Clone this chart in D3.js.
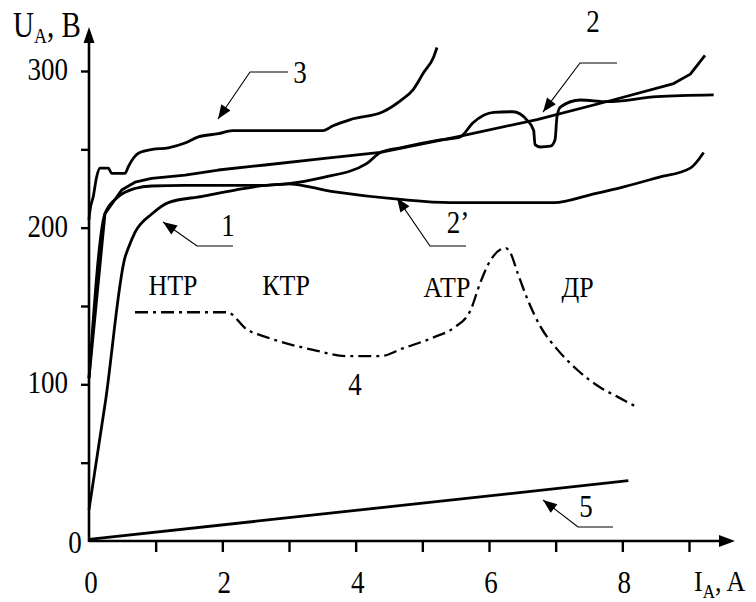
<!DOCTYPE html>
<html>
<head>
<meta charset="utf-8">
<script src="https://cdn.jsdelivr.net/npm/d3@7"></script>
<style>
  body { margin: 0; background: #fff; }
</style>
</head>
<body>
<svg id="chart" width="756" height="602"></svg>
<script>
// I_A, A  vs  U_A, V
const curve1 = [[0, 20], [0.25, 90], [0.54, 181], [0.59, 187], [0.69, 197], [0.95, 209], [1.19, 216],
    [1.7, 220], [2.19, 224], [2.64, 227], [2.97, 228], [3.5, 232], [4.17, 241], [4.37, 248], [4.67, 251],
    [5.27, 256], [5.57, 258], [5.76, 267], [6.07, 273.6], [6.36, 274], [6.57, 268.7], [6.67, 262],
    [6.69, 253], [6.77, 251.5], [6.92, 252], [6.99, 256], [7.02, 270.8], [7.07, 277], [7.37, 281.5],
    [7.77, 280.4], [8.52, 283.6], [9.37, 284.7]];
const curve2 = [[0, 104], [0.24, 209], [0.39, 218], [0.49, 224], [0.69, 229], [0.94, 231.5], [1.44, 233.6],
    [1.94, 236.8], [2.64, 240], [3.5, 244], [4.37, 248], [5.52, 258], [6.72, 269], [7.86, 281.5],
    [8.77, 292], [9.02, 298], [9.24, 310]];
const curve2p = [[0, 104], [0.24, 209], [0.44, 219.7], [0.69, 225], [0.94, 226.6], [1.44, 227], [2.64, 227],
    [2.97, 228], [3.66, 223], [4.67, 218], [5.42, 216], [6.98, 216], [7.52, 221], [8.02, 226],
    [8.53, 232], [9.02, 238], [9.22, 248]];
const curve3 = [[0, 205], [0.015, 211], [0.065, 220], [0.115, 232.5], [0.165, 238], [0.29, 238],
    [0.34, 234.7], [0.54, 234.7], [0.59, 239], [0.665, 244.3], [0.74, 247.5], [0.95, 250], [1.19, 251],
    [1.44, 254], [1.64, 258], [1.94, 260], [2.15, 262], [2.64, 262], [3.51, 262], [3.66, 265],
    [3.92, 269], [4.41, 274], [4.67, 281], [4.86, 288], [5.02, 299], [5.17, 309], [5.22, 315]];
const curve4 = [[0.69, 146], [2.07, 146], [2.37, 135], [2.67, 130], [3.36, 122], [3.87, 118], [4.37, 118],
    [4.71, 123], [5.17, 130], [5.47, 136], [5.72, 147], [5.87, 165], [6.02, 179], [6.17, 186],
    [6.25, 187], [6.32, 184], [6.43, 171], [6.58, 154], [6.77, 137], [7.03, 122], [7.33, 109],
    [7.67, 98], [7.93, 92], [8.24, 85]];
const curve5 = [[0, 1], [8.09, 38.5]];

const xTicks = [1, 2, 3, 4, 5, 6, 7, 8, 9];
const xTickLabels = [0, 2, 4, 6, 8];
const yTicks = [50, 100, 150, 200, 250, 300];
const yTickLabels = [100, 200, 300];

const regionNames = ['НТР', 'КТР', 'АТР', 'ДР'];
const curveNames = ['1', '2', '2’', '3', '4', '5'];

const serif = '"Liberation Serif", "Times New Roman", "DejaVu Serif", serif';
const svg = d3.select('#chart');
const x = d3.scaleLinear().domain([0, 9]).range([89, 689]);
const y = d3.scaleLinear().domain([0, 300]).range([541, 71]);

svg.append('rect').attr('width', 756).attr('height', 602).attr('fill', '#fff');

// serif text in the scan is a bit taller than wide
function label(px, py, str, size, anchor) {
    return svg.append('text')
        .attr('transform', `translate(${px},${py}) scale(1,1.15)`)
        .attr('text-anchor', anchor || 'middle')
        .attr('font-family', serif)
        .attr('fill', '#000')
        .style('font-size', size + 'px')
        .text(str);
}

// axes
const xAxis = svg.append('g').attr('transform', `translate(0,${y(0)})`)
    .call(d3.axisBottom(x).tickValues(xTicks).tickSize(11).tickFormat(''));
const yAxis = svg.append('g').attr('transform', `translate(${x(0)},0)`)
    .call(d3.axisLeft(y).tickValues(yTicks).tickSize(8).tickFormat(''));
[xAxis, yAxis].forEach(a => {
    a.select('.domain').remove();
    a.selectAll('.tick line').attr('stroke', '#000').attr('stroke-width', 2.4);
});

svg.append('line').attr('x1', x(0)).attr('y1', y(0)).attr('x2', 722).attr('y2', y(0))
    .attr('stroke', '#000').attr('stroke-width', 2.6);
svg.append('path').attr('d', `M735,${y(0)} L719,${y(0) - 6} L719,${y(0) + 6} Z`).attr('fill', '#000');
svg.append('line').attr('x1', x(0)).attr('y1', y(0) + 1).attr('x2', x(0)).attr('y2', 40)
    .attr('stroke', '#000').attr('stroke-width', 2.6);
svg.append('path').attr('d', `M${x(0)},27 L${x(0) - 5.5},43 L${x(0) + 5.5},43 Z`).attr('fill', '#000');

xTickLabels.forEach(v => label(x(v) + 2, 593, String(v), 27));
yTickLabels.forEach(v => label(68, y(v) + 9, String(v), 27, 'end'));
label(75, 553, '0', 27);

// axis titles
const ut = svg.append('text').attr('transform', 'translate(13,37) scale(1,1.2)')
    .attr('font-family', serif).style('font-size', '29px');
ut.append('tspan').text('U');
ut.append('tspan').attr('dy', 5).style('font-size', '18px').text('A');
ut.append('tspan').attr('dy', -5).text(', В');
const it = svg.append('text').attr('transform', 'translate(694,591) scale(1,1.15)')
    .attr('font-family', serif).style('font-size', '26px');
it.append('tspan').text('I');
it.append('tspan').attr('dy', 6).style('font-size', '17px').text('A');
it.append('tspan').attr('dy', -6).text(', A');

// curves
const smooth = d3.line().x(d => x(d[0])).y(d => y(d[1])).curve(d3.curveMonotoneX);
const straight = d3.line().x(d => x(d[0])).y(d => y(d[1]));

[[curve3, smooth], [curve2, straight], [curve2p, smooth], [curve1, smooth], [curve5, straight]]
    .forEach(([data, gen]) => {
        svg.append('path').attr('d', gen(data)).attr('fill', 'none')
            .attr('stroke', '#000').attr('stroke-width', 2.8).attr('stroke-linejoin', 'round');
    });
svg.append('path').attr('d', smooth(curve4)).attr('fill', 'none')
    .attr('stroke', '#000').attr('stroke-width', 2.3).attr('stroke-dasharray', '13,5,3,5');

// leader lines: text spot, shelf ends, arrow tip (data units)
const notes = [
    {name: curveNames[0], t: [2.085, 195], s: [1.62, 2.16, 188.3], tip: [1.11, 203.6]},
    {name: curveNames[1], t: [7.56, 325], s: [7.365, 7.92, 305.1], tip: [6.81, 273.8]},
    {name: curveNames[2], t: [5.535, 196.6], s: [5.115, 5.655, 188.3], tip: [4.62, 219]},
    {name: curveNames[3], t: [3.165, 292.3], s: [2.415, 2.985, 299.4], tip: [1.935, 269.4]},
    {name: curveNames[5], t: [7.455, 15.3], s: [7.335, 7.86, 8.9], tip: [6.81, 26.2]},
];
notes.forEach(n => {
    const x0 = x(n.s[0]), x1 = x(n.s[1]), yy = y(n.s[2]);
    const tx = x(n.tip[0]), ty = y(n.tip[1]);
    svg.append('path').attr('d', `M${x1},${yy} L${x0},${yy} L${tx},${ty}`)
        .attr('fill', 'none').attr('stroke', '#000').attr('stroke-width', 1.1);
    const ang = Math.atan2(ty - yy, tx - x0);
    const L = 14, W = 5.5;
    const bx = tx - L * Math.cos(ang), by = ty - L * Math.sin(ang);
    const px = -Math.sin(ang) * W, py = Math.cos(ang) * W;
    svg.append('path').attr('d', `M${tx},${ty} L${bx + px},${by + py} L${bx - px},${by - py} Z`)
        .attr('fill', '#000');
    label(x(n.t[0]), y(n.t[1]), n.name, 27);
});
label(x(3.99), y(93.2), curveNames[4], 27);

// regime names
const regionSpots = [[1.26, 157], [2.955, 157], [5.37, 155.7], [7.33, 155.7]];
regionNames.forEach((r, i) => label(x(regionSpots[i][0]), y(regionSpots[i][1]), r, 26));
</script>
</body>
</html>
